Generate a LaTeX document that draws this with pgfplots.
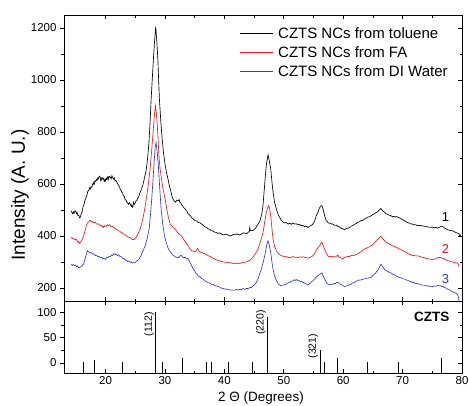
\documentclass[border=0pt]{standalone}
\usepackage{fontspec}
\setmainfont{Liberation Sans}
\usepackage{pgfplots}
\pgfplotsset{compat=1.18}
\definecolor{cred}{RGB}{240,20,20}
\definecolor{cblue}{RGB}{45,60,200}
\begin{document}
\begin{tikzpicture}
\path[use as bounding box] (-64pt,-104pt) rectangle (406pt,301pt);
\pgfplotsset{
  every axis/.append style={
    scale only axis, width=398pt, xmin=13, xmax=80,
    /pgf/number format/assume math mode=true,
    /pgf/number format/1000 sep={},
    tick label style={font=\fontsize{11.5}{13}\selectfont},
    major tick length=4pt, minor tick length=2.5pt,
    xtick={20,30,...,80}, minor x tick num=1,
    tick style={black, line width=0.6pt},
    axis line style={line width=0.8pt},
  }
}
% ---------------- top panel ----------------
\begin{axis}[name=top, at={(0pt,0pt)}, anchor=south west, height=286pt,
  ymin=150, ymax=1250, ytick={200,400,...,1200}, minor y tick num=1,
  tick align=inside, xtick pos=both, ytick pos=right,
  xticklabels={}, yticklabels={},
  every axis plot/.append style={line width=0.65pt},
]
\addplot[black] coordinates {
(14.2,497)(14.35,490)(14.5,485)(14.6,493)(14.7,488)(14.85,497)(15.0,494)(15.1,486)(15.2,491)(15.35,478)(15.5,480)(15.6,470)(15.75,472)(15.9,486)(16.0,490)(16.1,497)(16.2,512)(16.35,520)(16.5,535)(16.6,542)(16.75,550)(16.9,560)(17.0,572)(17.15,574)(17.3,585)(17.4,580)(17.55,590)(17.7,587)(17.8,600)(17.9,598)(18.0,606)(18.1,600)(18.2,612)(18.3,610)(18.45,618)(18.55,613)(18.7,624)(18.8,620)(18.95,630)(19.1,626)(19.2,612)(19.25,615)(19.35,622)(19.4,618)(19.55,625)(19.66,619)(19.75,612)(19.8,610)(19.9,618)(20.0,612)(20.1,622)(20.22,617)(20.3,626)(20.4,628)(20.45,618)(20.5,622)(20.65,630)(20.8,626)(20.95,620)(21.06,632)(21.2,625)(21.34,619)(21.45,624)(21.6,612)(21.75,614)(21.9,606)(22.05,600)(22.2,595)(22.3,590)(22.46,581)(22.6,576)(22.75,568)(22.85,566)(23.0,555)(23.15,552)(23.3,540)(23.45,538)(23.57,530)(23.7,527)(23.85,522)(24.0,528)(24.14,523)(24.3,515)(24.4,520)(24.5,510)(24.6,512)(24.7,530)(24.85,522)(25.0,528)(25.1,535)(25.25,536)(25.4,545)(25.55,550)(25.7,560)(25.82,568)(26.0,578)(26.1,585)(26.25,594)(26.38,606)(26.5,618)(26.65,635)(26.8,650)(26.93,670)(27.1,705)(27.3,760)(27.5,840)(27.67,927)(27.85,1000)(28.0,1060)(28.25,1150)(28.44,1205)(28.65,1140)(28.8,1080)(28.95,990)(29.06,927)(29.3,840)(29.5,780)(29.75,720)(30.0,677)(30.25,645)(30.5,620)(30.75,592)(31.0,570)(31.2,552)(31.4,540)(31.6,534)(31.8,530)(32.0,538)(32.25,536)(32.4,540)(32.5,530)(32.65,528)(32.8,520)(32.95,517)(33.1,510)(33.35,505)(33.6,497)(33.75,493)(33.9,485)(34.2,480)(34.5,470)(34.75,466)(35.05,459)(35.3,458)(35.6,452)(35.9,451)(36.16,446)(36.4,442)(36.7,435)(37.0,433)(37.28,427)(37.5,426)(37.8,420)(38.1,419)(38.4,414)(38.65,414)(38.9,410)(39.2,412)(39.5,408)(39.75,404)(40.0,405)(40.3,407)(40.6,404)(40.9,400)(41.2,402)(41.5,406)(41.8,404)(42.05,408)(42.3,406)(42.6,404)(42.9,408)(43.2,412)(43.5,411)(43.75,409)(44.0,414)(44.2,418)(44.28,433)(44.35,420)(44.6,422)(44.85,421)(45.1,427)(45.3,431)(45.5,440)(45.75,448)(46.0,459)(46.3,485)(46.5,517)(46.7,575)(46.9,632)(47.1,680)(47.35,712)(47.55,690)(47.8,658)(48.0,610)(48.2,568)(48.45,530)(48.75,504)(48.9,494)(49.1,480)(49.35,470)(49.6,459)(49.85,455)(50.1,450)(50.4,452)(50.7,446)(51.0,449)(51.3,445)(51.55,450)(51.8,446)(52.1,447)(52.4,443)(52.65,445)(52.9,440)(53.2,441)(53.5,436)(53.8,438)(54.06,433)(54.3,436)(54.5,440)(54.7,442)(54.9,446)(55.05,452)(55.2,459)(55.35,468)(55.46,478)(55.6,484)(55.74,491)(56.0,508)(56.2,514)(56.41,517)(56.6,505)(56.74,491)(56.95,472)(57.13,459)(57.3,456)(57.5,450)(57.75,449)(58.0,446)(58.25,446)(58.5,441)(58.8,442)(59.1,437)(59.35,435)(59.6,430)(59.9,428)(60.2,424)(60.5,428)(60.8,430)(61.05,432)(61.3,437)(61.6,440)(61.9,445)(62.2,448)(62.45,453)(62.7,454)(63.0,459)(63.3,460)(63.57,465)(63.85,468)(64.1,472)(64.4,474)(64.7,478)(64.95,482)(65.2,485)(65.5,490)(65.8,493)(66.1,500)(66.36,506)(66.6,498)(66.9,492)(67.05,490)(67.2,485)(67.45,484)(67.7,480)(68.0,479)(68.3,474)(68.55,476)(68.8,473)(69.0,475)(69.2,472)(69.45,470)(69.7,466)(70.0,463)(70.3,459)(70.55,456)(70.8,452)(71.1,450)(71.4,446)(71.65,446)(71.9,443)(72.2,443)(72.5,440)(72.8,441)(73.1,439)(73.35,440)(73.6,437)(73.9,437)(74.2,435)(74.5,434)(74.75,433)(75.0,435)(75.3,432)(75.6,433)(75.9,430)(76.1,433)(76.3,434)(76.5,438)(76.7,437)(76.9,433)(77.1,430)(77.3,428)(77.55,424)(77.8,423)(78.1,420)(78.4,420)(78.7,417)(78.9,414)(79.1,412)(79.3,411)(79.5,408)(79.65,400)(79.8,405)
};
\addplot[cred] coordinates {
(14.24,395)(14.4,390)(14.55,392)(14.7,388)(14.9,386)(15.05,388)(15.2,382)(15.35,375)(15.5,378)(15.6,372)(15.75,376)(15.9,380)(16.0,385)(16.15,392)(16.3,401)(16.45,414)(16.6,425)(16.75,440)(16.86,446)(17.0,452)(17.2,455)(17.3,460)(17.43,459)(17.6,453)(17.8,456)(18.0,450)(18.27,453)(18.45,446)(18.7,447)(18.9,444)(19.1,440)(19.25,442)(19.4,436)(19.55,439)(19.66,433)(19.85,440)(20.1,437)(20.3,443)(20.5,440)(20.7,444)(20.9,436)(21.1,438)(21.34,433)(21.55,430)(21.8,425)(22.0,424)(22.18,420)(22.4,418)(22.6,414)(22.8,412)(23.0,408)(23.25,405)(23.5,400)(23.7,399)(23.86,395)(24.1,394)(24.3,391)(24.5,386)(24.7,388)(24.85,386)(25.0,392)(25.25,399)(25.5,410)(25.82,427)(26.1,450)(26.38,478)(26.65,512)(26.93,555)(27.2,600)(27.5,658)(27.8,740)(28.0,800)(28.2,860)(28.4,900)(28.6,860)(28.8,790)(29.0,700)(29.18,658)(29.6,590)(30.02,542)(30.4,490)(30.86,446)(31.1,440)(31.3,435)(31.5,430)(31.7,427)(32.0,418)(32.25,410)(32.5,405)(32.8,400)(33.1,388)(33.37,380)(33.65,370)(33.9,362)(34.2,350)(34.48,343)(34.75,342)(35.0,340)(35.3,344)(35.45,352)(35.6,350)(35.75,340)(35.9,338)(36.1,337)(36.3,335)(36.5,334)(36.73,331)(37.0,328)(37.3,324)(37.55,322)(37.84,318)(38.1,315)(38.4,311)(38.7,308)(38.96,305)(39.2,305)(39.5,302)(39.8,301)(40.08,299)(40.35,299)(40.6,297)(40.9,298)(41.19,296)(41.5,293)(41.8,296)(42.05,294)(42.32,296)(42.6,294)(42.9,297)(43.15,298)(43.44,299)(43.7,301)(44.0,304)(44.3,307)(44.55,312)(44.8,318)(45.1,328)(45.4,338)(45.67,350)(46.1,380)(46.51,414)(46.8,455)(47.06,491)(47.3,510)(47.47,517)(47.65,500)(47.8,478)(48.0,430)(48.19,388)(48.45,360)(48.75,343)(49.1,332)(49.58,324)(49.85,323)(50.1,320)(50.4,321)(50.7,318)(51.0,316)(51.3,319)(51.55,321)(51.83,318)(52.1,319)(52.4,317)(52.7,320)(52.94,318)(53.2,320)(53.5,318)(53.8,316)(54.06,315)(54.3,316)(54.5,318)(54.7,321)(54.9,324)(55.05,328)(55.2,333)(55.46,345)(55.74,355)(56.02,362)(56.2,370)(56.41,376)(56.6,365)(56.86,350)(57.1,336)(57.41,324)(57.6,321)(57.8,322)(58.0,320)(58.26,322)(58.5,318)(58.7,320)(58.9,323)(59.09,327)(59.25,320)(59.5,318)(59.7,314)(59.93,312)(60.1,316)(60.3,318)(60.55,320)(60.77,322)(61.0,320)(61.2,323)(61.4,326)(61.61,324)(61.8,325)(62.0,327)(62.2,330)(62.45,331)(62.7,336)(63.0,340)(63.3,346)(63.57,350)(63.85,352)(64.1,356)(64.4,358)(64.68,362)(64.95,366)(65.2,372)(65.5,380)(65.81,388)(66.1,394)(66.36,399)(66.55,392)(66.7,388)(66.95,382)(67.2,376)(67.5,373)(67.8,369)(68.05,366)(68.32,362)(68.6,360)(68.9,356)(69.15,354)(69.44,350)(69.7,348)(70.0,344)(70.3,341)(70.56,337)(70.85,334)(71.1,330)(71.4,328)(71.68,324)(71.95,326)(72.2,323)(72.5,324)(72.8,322)(73.05,320)(73.3,318)(73.6,317)(73.91,314)(74.2,313)(74.5,311)(74.75,311)(75.03,309)(75.3,311)(75.6,313)(75.9,316)(76.16,318)(76.4,317)(76.6,315)(76.8,314)(77.0,312)(77.25,309)(77.5,306)(77.8,304)(78.1,301)(78.4,300)(78.7,298)(78.95,297)(79.23,296)(79.4,290)(79.51,280)
};
\addplot[cblue] coordinates {
(14.24,292)(14.4,287)(14.6,290)(14.75,286)(14.92,288)(15.1,282)(15.3,285)(15.5,277)(15.75,280)(15.9,284)(16.0,283)(16.15,290)(16.31,292)(16.45,305)(16.6,315)(16.75,330)(16.86,337)(17.0,344)(17.1,339)(17.25,338)(17.43,335)(17.6,336)(17.8,330)(18.0,332)(18.27,325)(18.5,326)(18.7,320)(18.9,322)(19.11,316)(19.3,318)(19.5,312)(19.7,315)(19.94,310)(20.2,318)(20.4,316)(20.6,322)(20.79,320)(21.0,327)(21.2,325)(21.4,332)(21.62,329)(21.8,331)(22.0,325)(22.2,327)(22.46,320)(22.7,320)(22.9,313)(23.1,314)(23.3,307)(23.5,308)(23.7,302)(23.9,304)(24.14,299)(24.3,300)(24.5,296)(24.75,298)(24.98,297)(25.2,303)(25.4,306)(25.6,311)(25.82,318)(26.0,326)(26.2,338)(26.66,362)(27.0,390)(27.33,427)(27.55,480)(27.77,542)(28.0,620)(28.17,683)(28.35,740)(28.5,760)(28.7,720)(28.89,670)(29.1,590)(29.35,504)(29.6,450)(29.9,401)(30.2,375)(30.57,350)(30.8,342)(31.0,335)(31.2,331)(31.41,324)(31.6,323)(31.8,319)(32.0,318)(32.25,316)(32.5,322)(32.65,326)(32.8,324)(33.0,318)(33.2,317)(33.4,318)(33.64,312)(33.8,314)(33.93,310)(34.1,304)(34.3,295)(34.5,285)(34.77,273)(35.0,266)(35.2,257)(35.4,253)(35.6,246)(35.9,243)(36.2,236)(36.45,234)(36.73,227)(37.0,225)(37.3,220)(37.55,219)(37.84,214)(38.1,214)(38.4,209)(38.7,208)(38.96,205)(39.2,204)(39.5,199)(39.8,199)(40.08,195)(40.35,197)(40.6,193)(40.9,193)(41.19,192)(41.5,192)(41.8,192)(42.05,195)(42.32,192)(42.6,195)(42.9,194)(43.15,198)(43.44,195)(43.7,198)(44.0,198)(44.3,202)(44.55,202)(44.8,208)(45.0,212)(45.2,216)(45.39,222)(45.6,232)(45.8,245)(46.23,273)(46.6,305)(46.9,337)(47.15,368)(47.35,382)(47.55,365)(47.8,337)(48.0,300)(48.19,273)(48.45,245)(48.75,228)(49.1,215)(49.35,211)(49.58,208)(49.8,211)(50.0,211)(50.2,215)(50.42,214)(50.7,220)(51.0,221)(51.3,227)(51.54,227)(51.8,232)(52.0,229)(52.2,233)(52.38,227)(52.6,228)(52.8,224)(53.0,225)(53.22,221)(53.4,221)(53.6,217)(53.85,215)(54.06,211)(54.3,217)(54.5,219)(54.7,225)(54.9,227)(55.2,235)(55.46,242)(55.74,248)(56.02,252)(56.2,255)(56.41,258)(56.6,248)(56.86,235)(57.1,224)(57.41,215)(57.6,214)(57.8,213)(58.0,213)(58.26,214)(58.5,218)(58.7,217)(58.9,222)(59.09,221)(59.35,219)(59.6,213)(59.9,211)(60.22,204)(60.5,208)(60.8,209)(61.05,214)(61.33,214)(61.6,220)(61.9,221)(62.2,227)(62.45,227)(62.7,231)(63.0,231)(63.3,234)(63.57,234)(63.85,238)(64.1,237)(64.4,240)(64.68,240)(64.95,247)(65.2,252)(65.5,259)(65.81,267)(66.1,280)(66.36,292)(66.55,285)(66.7,280)(66.95,272)(67.2,267)(67.5,264)(67.8,259)(68.05,258)(68.32,253)(68.6,251)(68.9,246)(69.15,245)(69.44,240)(69.7,240)(70.0,235)(70.3,235)(70.56,231)(70.85,230)(71.1,226)(71.4,225)(71.68,221)(71.95,221)(72.2,217)(72.5,218)(72.8,214)(73.05,214)(73.3,211)(73.6,211)(73.91,208)(74.2,209)(74.5,206)(74.75,207)(75.03,205)(75.3,208)(75.6,207)(75.9,210)(76.16,208)(76.4,209)(76.6,205)(76.8,206)(77.0,202)(77.25,201)(77.5,196)(77.8,194)(78.1,189)(78.4,187)(78.7,182)(78.95,181)(79.23,176)(79.4,165)(79.51,150)
};
% legend
\draw[black, line width=0.8pt] (axis cs:42.63,1180.8) -- (axis cs:48.18,1180.8);
\draw[cred, line width=0.8pt] (axis cs:42.63,1107.7) -- (axis cs:48.18,1107.7);
\draw[cblue, line width=0.8pt] (axis cs:42.63,1034.6) -- (axis cs:48.18,1034.6);
\node[anchor=west, inner sep=0pt, font=\fontsize{15}{17}\selectfont] at (axis cs:49.02,1180.8) {CZTS NCs from toluene};
\node[anchor=west, inner sep=0pt, font=\fontsize{15}{17}\selectfont] at (axis cs:49.02,1107.7) {CZTS NCs from FA};
\node[anchor=west, inner sep=0pt, font=\fontsize{15}{17}\selectfont] at (axis cs:49.02,1034.6) {CZTS NCs from DI Water};
\node[font=\fontsize{13}{15}\selectfont, text=black] at (axis cs:77.2,473) {1};
\node[font=\fontsize{13}{15}\selectfont, text=cred] at (axis cs:77.2,350) {2};
\node[font=\fontsize{13}{15}\selectfont, text=cblue] at (axis cs:77.2,235) {3};
\end{axis}
% left outward ticks with labels (top panel)
\begin{axis}[at={(0pt,0pt)}, anchor=south west, height=286pt,
  ymin=150, ymax=1250, ytick={200,400,...,1200}, minor y tick num=1,
  hide x axis, axis y line*=left, tick align=outside, axis line style={draw=none}]
\end{axis}
% ---------------- bottom panel ----------------
\begin{axis}[name=bot, at={(0pt,0pt)}, anchor=north west, height=72pt,
  ymin=-20, ymax=122, ytick={0,50,100}, minor y tick num=1,
  tick align=inside, xtick pos=both, ytick pos=right, yticklabels={},
  unbounded coords=jump,
]
\addplot[black, line width=0.9pt] coordinates {
(16.3,-20)(16.3,2)(16.3,nan)
(18.1,-20)(18.1,5)(18.1,nan)
(22.9,-20)(22.9,2)(22.9,nan)
(28.45,-20)(28.45,100)(28.45,nan)
(29.6,-20)(29.6,2)(29.6,nan)
(32.9,-20)(32.9,10)(32.9,nan)
(36.9,-20)(36.9,2)(36.9,nan)
(37.8,-20)(37.8,2)(37.8,nan)
(40.7,-20)(40.7,1)(40.7,nan)
(44.8,-20)(44.8,2)(44.8,nan)
(47.3,-20)(47.3,91)(47.3,nan)
(56.1,-20)(56.1,25)(56.1,nan)
(56.9,-20)(56.9,2)(56.9,nan)
(59.0,-20)(59.0,10)(59.0,nan)
(64.1,-20)(64.1,1)(64.1,nan)
(69.3,-20)(69.3,2)(69.3,nan)
(76.5,-20)(76.5,10)
};
\node[rotate=90, anchor=south east, inner sep=1pt, font=\fontsize{10.5}{12}\selectfont] at (axis cs:28.35,102) {(112)};
\node[rotate=90, anchor=center, inner sep=1pt, font=\fontsize{10.5}{12}\selectfont] at (axis cs:46.15,80) {(220)};
\node[rotate=90, anchor=center, inner sep=1pt, font=\fontsize{10.5}{12}\selectfont] at (axis cs:54.95,33) {(321)};
\node[font=\bfseries\fontsize{13.5}{15}\selectfont] at (axis cs:74.9,91) {CZTS};
\end{axis}
\begin{axis}[at={(0pt,0pt)}, anchor=north west, height=72pt,
  ymin=-20, ymax=122, ytick={0,50,100}, minor y tick num=1,
  hide x axis, axis y line*=left, tick align=outside, axis line style={draw=none}]
\end{axis}
\node[rotate=90, font=\fontsize{19}{21}\selectfont] at (-44pt,106pt) {Intensity (A. U.)};
\node[font=\fontsize{13.5}{15}\selectfont] at (197pt,-97pt) {2 Θ (Degrees)};
\end{tikzpicture}
\end{document}
